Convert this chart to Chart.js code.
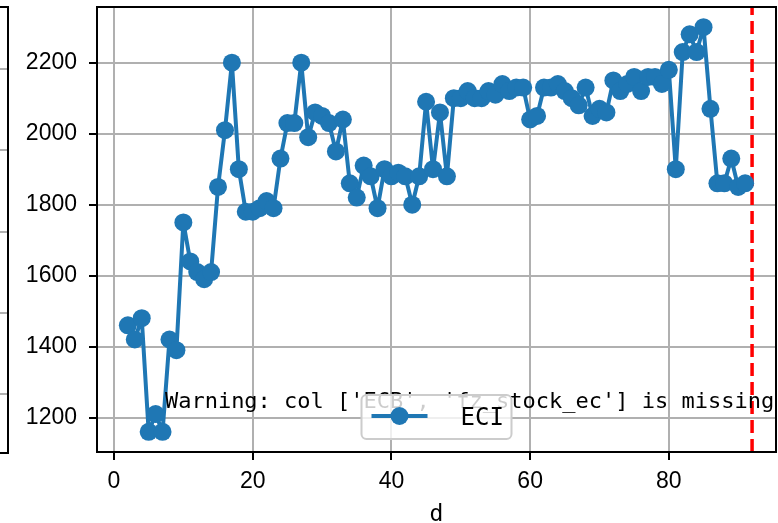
<!DOCTYPE html>
<html>
<head>
<meta charset="utf-8">
<script src="https://cdn.jsdelivr.net/npm/chart.js@4"></script>
<style>
  body { margin: 0; background: #fff; }
  #wrap { position: relative; width: 778px; height: 523px; }
  #chart { position: absolute; left: 0; top: 0; }
  /* edge of the neighbouring subplot, cut off on the left */
  #leftAxes {
    position: absolute; left: -20px; top: 6px; width: 27px; height: 444px;
    border: 2px solid #000; border-left: none;
    background: repeating-linear-gradient(to bottom,
      transparent 0, transparent 60px, #b0b0b0 60px, #b0b0b0 62px, transparent 62px, transparent 81.3px);
  }
</style>
</head>
<body>
<div id="wrap">
  <div id="leftAxes"></div>
  <canvas id="chart" width="778" height="523"></canvas>
</div>
<script>
const days = [
  2, 3, 4, 5, 6, 7, 8, 9, 10, 11, 12, 13, 14, 15, 16, 17, 18, 19, 20, 21,
  22, 23, 24, 25, 26, 27, 28, 29, 30, 31, 32, 33, 34, 35, 36, 37, 38, 39, 40, 41,
  42, 43, 44, 45, 46, 47, 48, 49, 50, 51, 52, 53, 54, 55, 56, 57, 58, 59, 60, 61,
  62, 63, 64, 65, 66, 67, 68, 69, 70, 71, 72, 73, 74, 75, 76, 77, 78, 79, 80, 81,
  82, 83, 84, 85, 86, 87, 88, 89, 90, 91
];
const eci = [
  1460, 1420, 1480, 1160, 1210, 1160, 1420, 1390, 1750, 1640, 1610, 1590, 1610, 1850, 2010, 2200, 1900, 1780, 1780, 1790,
  1810, 1790, 1930, 2030, 2030, 2200, 1990, 2060, 2050, 2030, 1950, 2040, 1860, 1820, 1910, 1880, 1790, 1900, 1880, 1890,
  1880, 1800, 1880, 2090, 1900, 2060, 1880, 2100, 2100, 2120, 2100, 2100, 2120, 2110, 2140, 2120, 2130, 2130, 2040, 2050,
  2130, 2130, 2140, 2120, 2100, 2080, 2130, 2050, 2070, 2060, 2150, 2120, 2140, 2160, 2120, 2160, 2160, 2140, 2180, 1900,
  2230, 2280, 2230, 2300, 2070, 1860, 1860, 1930, 1850, 1860
];
const cutoffDay = 92;
const xTicks = [0, 20, 40, 60, 80];
const yTicks = [1200, 1400, 1600, 1800, 2000, 2200];
const warningText = "Warning: col ['ECB', 'fz_stock_ec'] is missing";

// matplotlib style 5% margins
const xSpan = Math.max(...days) - Math.min(...days);
const ySpan = Math.max(...eci) - Math.min(...eci);
const xMin = Math.min(...days) - 0.05 * xSpan;
const xMax = Math.max(...days) + 0.05 * xSpan;
const yMin = Math.min(...eci) - 0.05 * ySpan;
const yMax = Math.max(...eci) + 0.05 * ySpan;

const blue = "#1f77b4";
const tickFont = { family: "'Liberation Sans', Arial, sans-serif", size: 23 };
const monoFont = "'DejaVu Sans Mono', monospace";

const frameAndNotes = {
  id: "frameAndNotes",
  afterDatasetsDraw(chart) {
    const { ctx, chartArea: a } = chart;
    ctx.save();
    // axes frame
    ctx.strokeStyle = "#000";
    ctx.lineWidth = 2;
    ctx.strokeRect(a.left, a.top, a.right - a.left, a.bottom - a.top);

    // warning text at axes (0.1, 0.1)
    ctx.fillStyle = "#000";
    ctx.font = "22px " + monoFont;
    ctx.textBaseline = "alphabetic";
    ctx.fillText(warningText, a.left + 0.1 * (a.right - a.left), a.bottom - 0.1 * (a.bottom - a.top));

    // legend, lower center
    const ds = chart.data.datasets[0];
    const w = 150, h = 44;
    const x0 = (a.left + a.right) / 2 - w / 2;
    const y0 = a.bottom - 13 - h;
    ctx.beginPath();
    ctx.roundRect(x0, y0, w, h, 5);
    ctx.fillStyle = "rgba(255,255,255,0.8)";
    ctx.fill();
    ctx.strokeStyle = "#cccccc";
    ctx.lineWidth = 2;
    ctx.stroke();
    const cy = y0 + h / 2 - 1;
    ctx.strokeStyle = ds.borderColor;
    ctx.lineWidth = ds.borderWidth;
    ctx.beginPath();
    ctx.moveTo(x0 + 10, cy);
    ctx.lineTo(x0 + 66, cy);
    ctx.stroke();
    ctx.fillStyle = ds.pointBackgroundColor;
    ctx.beginPath();
    ctx.arc(x0 + 38, cy, ds.pointRadius, 0, Math.PI * 2);
    ctx.fill();
    ctx.fillStyle = "#000";
    ctx.font = "24px " + monoFont;
    ctx.fillText(ds.label, x0 + 99, cy + 9);
    ctx.restore();
  }
};

new Chart(document.getElementById("chart"), {
  type: "line",
  data: {
    datasets: [
      {
        label: "ECI",
        data: days.map((d, i) => ({ x: d, y: eci[i] })),
        borderColor: blue,
        borderWidth: 4,
        borderJoinStyle: "round",
        pointRadius: 9,
        pointBackgroundColor: blue,
        pointBorderColor: blue,
        pointBorderWidth: 0,
        tension: 0,
      },
      {
        label: "cutoff",
        data: [{ x: cutoffDay, y: yMin }, { x: cutoffDay, y: yMax }],
        borderColor: "#ff0000",
        borderWidth: 3.5,
        borderDash: [13, 6],
        pointRadius: 0,
      },
    ],
  },
  options: {
    responsive: false,
    animation: false,
    layout: { autoPadding: false, padding: { top: 7, right: 2, left: 0, bottom: 0 } },
    plugins: {
      legend: { display: false },
      tooltip: { enabled: false },
    },
    scales: {
      x: {
        type: "linear",
        min: xMin,
        max: xMax,
        afterBuildTicks: (scale) => { scale.ticks = xTicks.map((v) => ({ value: v })); },
        afterFit: (scale) => {
          scale.height = 71;
          scale.paddingLeft = 0;
          scale.paddingRight = 0;
        },
        grid: { color: "#b0b0b0", lineWidth: 2, tickLength: 8, tickColor: "#000", tickWidth: 2 },
        border: { display: false },
        ticks: { font: tickFont, color: "#000", padding: 8, maxRotation: 0, autoSkip: false, callback: (v) => String(v) },
        title: {
          display: true,
          text: "d",
          color: "#000",
          font: { family: monoFont, size: 23, lineHeight: 1 },
          padding: { top: 0, bottom: -4 },
        },
      },
      y: {
        type: "linear",
        min: yMin,
        max: yMax,
        afterBuildTicks: (scale) => { scale.ticks = yTicks.map((v) => ({ value: v })); },
        afterFit: (scale) => {
          scale.width = 97;
          scale.paddingTop = 0;
          scale.paddingBottom = 0;
        },
        grid: { color: "#b0b0b0", lineWidth: 2, tickLength: 8, tickColor: "#000", tickWidth: 2 },
        border: { display: false },
        ticks: { font: tickFont, color: "#000", padding: 12, callback: (v) => String(v) },
      },
    },
  },
  plugins: [frameAndNotes],
});
</script>
</body>
</html>
